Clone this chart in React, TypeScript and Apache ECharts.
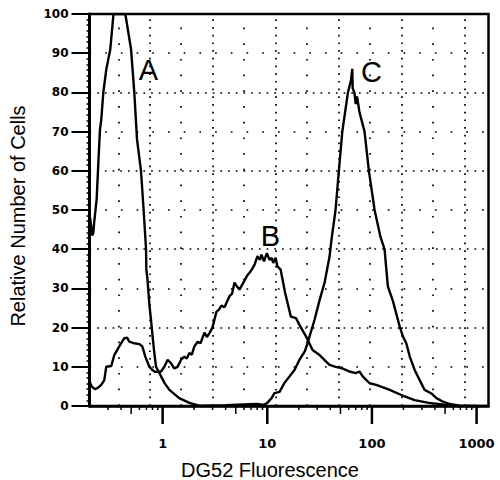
import { useEffect, useRef } from 'react';
import * as echarts from 'echarts';

// Histogram curves: [DG52 fluorescence, relative number of cells]
const curveA: [number, number][] = [
  [0.203, 48], [0.212, 43.5], [0.217, 44], [0.222, 47], [0.234, 52.7], [0.243, 62], [0.248, 67],
  [0.252, 70.6], [0.259, 73], [0.271, 80], [0.29, 86], [0.316, 91], [0.339, 100], [0.44, 100],
  [0.499, 91], [0.536, 80], [0.569, 68], [0.621, 60], [0.658, 50], [0.694, 40], [0.698, 35],
  [0.718, 32], [0.746, 26], [0.774, 22], [0.802, 17.7], [0.833, 13.5], [0.865, 10], [0.93, 8.4],
  [1.04, 5.9], [1.16, 4.1], [1.44, 2], [1.8, 0.8], [2.24, 0.1], [3.0, 0],
];

const curveB: [number, number][] = [
  [0.199, 7], [0.205, 5.5], [0.212, 4.9], [0.225, 4.3], [0.24, 4.6], [0.259, 5.4], [0.277, 6.6],
  [0.289, 10], [0.323, 10.2], [0.345, 13], [0.385, 15.2], [0.43, 17.3], [0.459, 17.4], [0.48, 16.4],
  [0.536, 16], [0.598, 15.8], [0.639, 15.2], [0.683, 12.6], [0.746, 10], [0.797, 9.2], [0.851, 8.7],
  [0.965, 8.8], [1.038, 10], [1.116, 11.8], [1.203, 10.9], [1.29, 9.6], [1.39, 10], [1.5, 11.8],
  [1.61, 12.6], [1.7, 12.1], [1.8, 13.5], [1.9, 13.1], [2.01, 15.2], [2.16, 16.4], [2.3, 16],
  [2.51, 18.7], [2.65, 17.6], [2.8, 18.6], [2.99, 20], [3.26, 24], [3.45, 24.6], [3.65, 25.6],
  [3.9, 25.2], [4.35, 28], [4.6, 28.6], [4.86, 31.5], [5.1, 30.6], [5.42, 29.7], [6.05, 32],
  [6.4, 33.2], [6.76, 34], [7.1, 34.8], [7.54, 36], [8.06, 38.2], [8.5, 37.3], [8.8, 38.6],
  [9.3, 36.9], [9.9, 39], [10.5, 37.3], [11.0, 37.8], [11.4, 36.5], [12.0, 37.8], [12.5, 35.6],
  [13.4, 34.8], [14.8, 28.9], [16.8, 22.8], [18.8, 22.4], [20.3, 20.7], [23.5, 17.7], [27.1, 14.3],
  [31.6, 13], [39.3, 10.5], [45, 10], [52, 9.6], [61, 8.8], [70, 8.4], [76, 8.8], [82, 7.5],
  [95, 5.8], [110, 5.4], [148, 4.1], [191, 2.8], [256, 1.5], [350, 0.8], [470, 0.4], [553, 0.1],
  [690, 0], [1000, 0],
];

const curveC: [number, number][] = [
  [2.24, 0], [4, 0.2], [6, 0.4], [8, 0.5], [9.3, 0.3], [10, 0.8], [11, 2], [11.7, 3.3], [13.1, 3.6],
  [14.6, 5.9], [18.2, 9.2], [20.3, 11.8], [22.9, 14], [24.2, 16], [28.3, 22], [31.6, 27], [35.3, 31.5],
  [39.3, 38], [41.1, 42.5], [44.9, 50], [48.3, 60], [52.1, 70], [59, 80], [63, 83], [64.9, 86],
  [65.5, 81], [68, 80], [70, 77], [72, 79], [76, 75], [85, 70], [93.5, 60], [106, 50], [121, 43],
  [132, 40], [142, 30.5], [159, 26.7], [184, 20.3], [198, 17.7], [213, 16], [230, 12.6], [256, 9.2],
  [286, 6.6], [319, 4.1], [370, 3.2], [413, 2], [478, 1.1], [553, 0.5], [690, 0.1], [861, 0], [1290, 0],
];

// Axis ticks and labels
const xTickLabels = ['1', '10', '100', '1000'];
const xMajorTicks = [1, 10, 100, 1000];
const xMidTicks = [0.5, 5, 50, 500];
const xMinorTicks = [
  0.3, 0.4, 0.6, 0.7, 0.8, 0.9, 2, 3, 4, 6, 7, 8, 9, 20, 30, 40, 60, 70, 80, 90,
  200, 300, 400, 600, 700, 800, 900,
];

// Dotted grid (channel grid)
const gridMajorX = [0.75, 3, 12, 48, 192, 768];
const gridMinorX = [0.375, 1.5, 6, 24, 96, 384];
const gridMajorY = [20, 40, 60, 80];
const gridMinorY = [10, 30, 50, 70, 90];

// Peak labels, in data coordinates
const peakNames = ['A', 'B', 'C'];
const peakLabelAt: [number, number][] = [[0.73, 85.7], [10.7, 43.4], [99, 85.1]];

const denseDots = { color: '#000', width: 1.7, type: [1.7, 6] as number[], cap: 'butt' };
const sparseDots = { color: '#000', width: 1.7, type: [1.7, 14] as number[], cap: 'butt' };

function tickSeries(vals: number[], len: number, width: number) {
  return {
    type: 'custom',
    xAxisIndex: 0,
    yAxisIndex: 0,
    data: vals.map((v) => [v, 0]),
    clip: false,
    silent: true,
    z: 6,
    renderItem: (_params: any, api: any) => {
      const p = api.coord([api.value(0), api.value(1)]);
      return {
        type: 'line',
        shape: { x1: p[0], y1: p[1], x2: p[0], y2: p[1] + len },
        style: { stroke: '#000', lineWidth: width },
      };
    },
  };
}

function curveSeries(data: [number, number][], idx: number, withGrid: boolean) {
  const s: any = {
    type: 'line',
    data,
    symbol: 'none',
    showSymbol: false,
    lineStyle: { color: '#000', width: 2.4 },
    z: 4,
    markPoint: {
      symbol: 'circle',
      symbolSize: 1,
      silent: true,
      itemStyle: { color: 'rgba(0,0,0,0)' },
      label: {
        show: true,
        position: 'inside',
        formatter: peakNames[idx],
        fontSize: 29,
        fontFamily: 'Liberation Sans',
        color: '#000',
      },
      data: [{ coord: peakLabelAt[idx] }],
    },
  };
  if (withGrid) {
    s.markLine = {
      silent: true,
      symbol: ['none', 'none'],
      label: { show: false },
      data: [
        ...gridMajorX.map((v) => ({ xAxis: v, lineStyle: denseDots })),
        ...gridMinorX.map((v) => ({ xAxis: v, lineStyle: sparseDots })),
        ...gridMajorY.map((v) => ({ yAxis: v, lineStyle: denseDots })),
        ...gridMinorY.map((v) => ({ yAxis: v, lineStyle: sparseDots })),
      ],
    };
  }
  return s;
}

export default function App() {
  const ref = useRef<HTMLDivElement>(null);

  useEffect(() => {
    document.body.style.margin = '0';
    if (!ref.current) return;
    const chart = echarts.init(ref.current, null, { renderer: 'svg' });
    chart.setOption({
      animation: false,
      backgroundColor: '#fff',
      grid: {
        left: 89.5,
        right: 11.5,
        top: 14,
        bottom: 74,
        show: true,
        borderColor: '#000',
        borderWidth: 2.5,
        outerBoundsMode: 'none',
      },
      xAxis: {
        type: 'log',
        logBase: 10,
        min: 0.2,
        max: 1300,
        axisLine: { show: true, lineStyle: { color: '#000', width: 2.5 } },
        axisTick: { show: false },
        minorTick: { show: false },
        splitLine: { show: false },
        axisLabel: {
          margin: 31,
          showMinLabel: false,
          showMaxLabel: false,
          fontFamily: 'DejaVu Sans',
          fontWeight: 'bold',
          fontSize: 13,
          color: '#000',
          formatter: (v: number) => {
            const i = xMajorTicks.findIndex((t) => Math.abs(t - v) / t < 1e-6);
            return i >= 0 ? xTickLabels[i] : '';
          },
        },
      },
      yAxis: {
        type: 'value',
        min: 0,
        max: 100,
        interval: 10,
        axisLine: { show: true, lineStyle: { color: '#000', width: 3 } },
        axisTick: { show: true, length: 18, lineStyle: { color: '#000', width: 2 } },
        minorTick: { show: true, splitNumber: 7, length: 3, lineStyle: { color: '#000', width: 1.5 } },
        splitLine: { show: false },
        axisLabel: {
          margin: 21,
          fontFamily: 'DejaVu Sans',
          fontWeight: 'bold',
          fontSize: 12,
          color: '#000',
        },
      },
      graphic: [
        {
          type: 'text',
          x: 270,
          y: 470,
          style: {
            text: 'DG52 Fluorescence',
            fontFamily: 'Liberation Sans',
            fontSize: 20,
            fill: '#000',
            textAlign: 'center',
            textVerticalAlign: 'middle',
          },
        },
        {
          type: 'text',
          x: 18,
          y: 216,
          rotation: Math.PI / 2,
          style: {
            text: 'Relative Number of Cells',
            fontFamily: 'Liberation Sans',
            fontSize: 20,
            fill: '#000',
            textAlign: 'center',
            textVerticalAlign: 'middle',
          },
        },
      ],
      series: [
        curveSeries(curveA, 0, true),
        curveSeries(curveB, 1, false),
        curveSeries(curveC, 2, false),
        tickSeries(xMajorTicks, 18, 2.5),
        tickSeries(xMidTicks, 8, 1.5),
        tickSeries(xMinorTicks, 4, 1.5),
      ],
    });
    return () => chart.dispose();
  }, []);

  return <div ref={ref} style={{ width: 500, height: 480 }} />;
}
